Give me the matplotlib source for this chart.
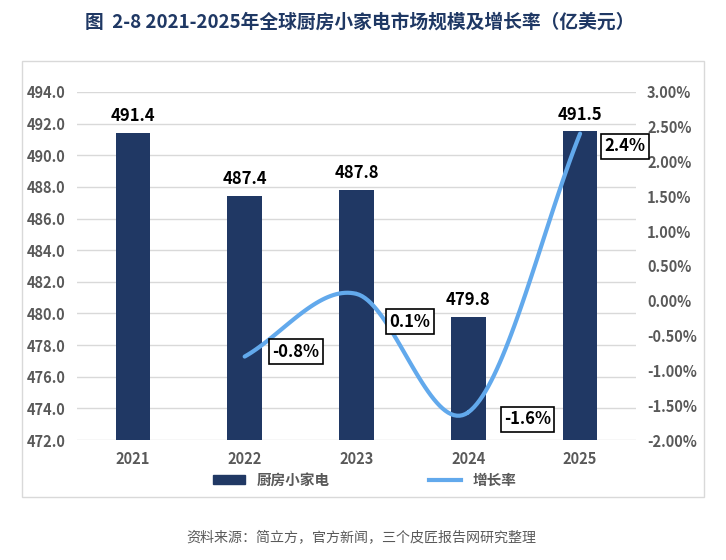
import matplotlib.pyplot as plt
from matplotlib.patches import Rectangle, Patch
from matplotlib.lines import Line2D
import numpy as np

plt.rcParams['font.family'] = ['Noto Sans CJK SC', 'DejaVu Sans']

years = ['2021', '2022', '2023', '2024', '2025']
market = [491.4, 487.4, 487.8, 479.8, 491.5]
growth_years = ['2022', '2023', '2024', '2025']
growth = [-0.8, 0.1, -1.6, 2.4]  # %
growth_labels = ['-0.8%', '0.1%', '-1.6%', '2.4%']

bar_color = '#203864'
line_color = '#62A9EC'
tick_color = '#595959'


def smooth(xs, ys, n=40):
    # catmull-rom, like excel's smoothed line
    xs = np.asarray(xs, float)
    ys = np.asarray(ys, float)
    px = np.concatenate([[2 * xs[0] - xs[1]], xs, [2 * xs[-1] - xs[-2]]])
    py = np.concatenate([[2 * ys[0] - ys[1]], ys, [2 * ys[-1] - ys[-2]]])
    ox, oy = [], []
    for i in range(1, len(px) - 2):
        t = np.linspace(0, 1, n)
        for p, o in ((px, ox), (py, oy)):
            p0, p1, p2, p3 = p[i - 1], p[i], p[i + 1], p[i + 2]
            o.extend(0.5 * (2 * p1 + (-p0 + p2) * t
                            + (2 * p0 - 5 * p1 + 4 * p2 - p3) * t ** 2
                            + (-p0 + 3 * p1 - 3 * p2 + p3) * t ** 3))
    return np.array(ox), np.array(oy)


fig = plt.figure(figsize=(7.26, 5.6), dpi=100)
ax = fig.add_axes([0.106, 0.214, 0.77, 0.622])

x = np.arange(len(years))
ax.bar(x, market, width=0.31, color=bar_color, zorder=3)
ax.set_ylim(472, 494)
ax.set_yticks(np.arange(472, 494.1, 2))
ax.set_yticklabels(['%.1f' % v for v in np.arange(472, 494.1, 2)])
ax.set_xlim(-0.5, len(years) - 0.5)
ax.set_xticks(x)
ax.set_xticklabels(years)
ax.grid(axis='y', color='#D9D9D9', lw=1, zorder=0)
for v, xi in zip(market, x):
    ax.text(xi, v + 0.5, '%.1f' % v, ha='center', va='bottom',
            fontsize=12, fontweight='bold', color='black')

ax2 = ax.twinx()
ax2.set_ylim(-2.0, 3.0)
ticks2 = np.arange(-2.0, 3.01, 0.5)
ax2.set_yticks(ticks2)
ax2.set_yticklabels(['%.2f%%' % v for v in ticks2])
gx = np.array([years.index(y) for y in growth_years])
sx, sy = smooth(gx, growth)
ax2.plot(sx, sy, color=line_color, lw=3, solid_capstyle='round', zorder=4)

offsets = [(0.46, 0.07), (0.48, -0.4), (0.53, -0.1), (0.40, -0.18)]
for xi, v, lab, (dx, dy) in zip(gx, growth, growth_labels, offsets):
    ax2.text(xi + dx, v + dy, lab, ha='center', va='center', fontsize=12,
             fontweight='bold', color='black', zorder=5,
             bbox=dict(boxstyle='square,pad=0.2', fc='white', ec='black', lw=1.2))

for a in (ax, ax2):
    for s in a.spines.values():
        s.set_visible(False)
    a.tick_params(length=0, labelsize=10.5, colors=tick_color, pad=8)
    for t in a.get_xticklabels() + a.get_yticklabels():
        t.set_fontweight('bold')

handles = [Patch(color=bar_color), Line2D([], [], color=line_color, lw=3)]
leg = fig.legend(handles, ['厨房小家电', '增长率'], ncol=2, frameon=False,
                 loc='center', bbox_to_anchor=(0.502, 0.143),
                 handlelength=2.2, handleheight=0.6, columnspacing=6.8,
                 prop={'size': 10.5, 'weight': 'bold'})
for t in leg.get_texts():
    t.set_color(tick_color)

fig.patches.append(Rectangle((0.0303, 0.1125), 0.939, 0.7786, transform=fig.transFigure,
                             fill=False, ec='#D9D9D9', lw=1))

fig.text(0.495, 0.961, '图  2-8 2021-2025年全球厨房小家电市场规模及增长率（亿美元）',
         ha='center', va='center', fontsize=13.5, fontweight='bold', color='#1F3864')
fig.text(0.256, 0.040, '资料来源：简立方，官方新闻，三个皮匠报告网研究整理',
         ha='left', va='center', fontsize=10.1, color='#595959')

fig.savefig('out.png', dpi=100)
